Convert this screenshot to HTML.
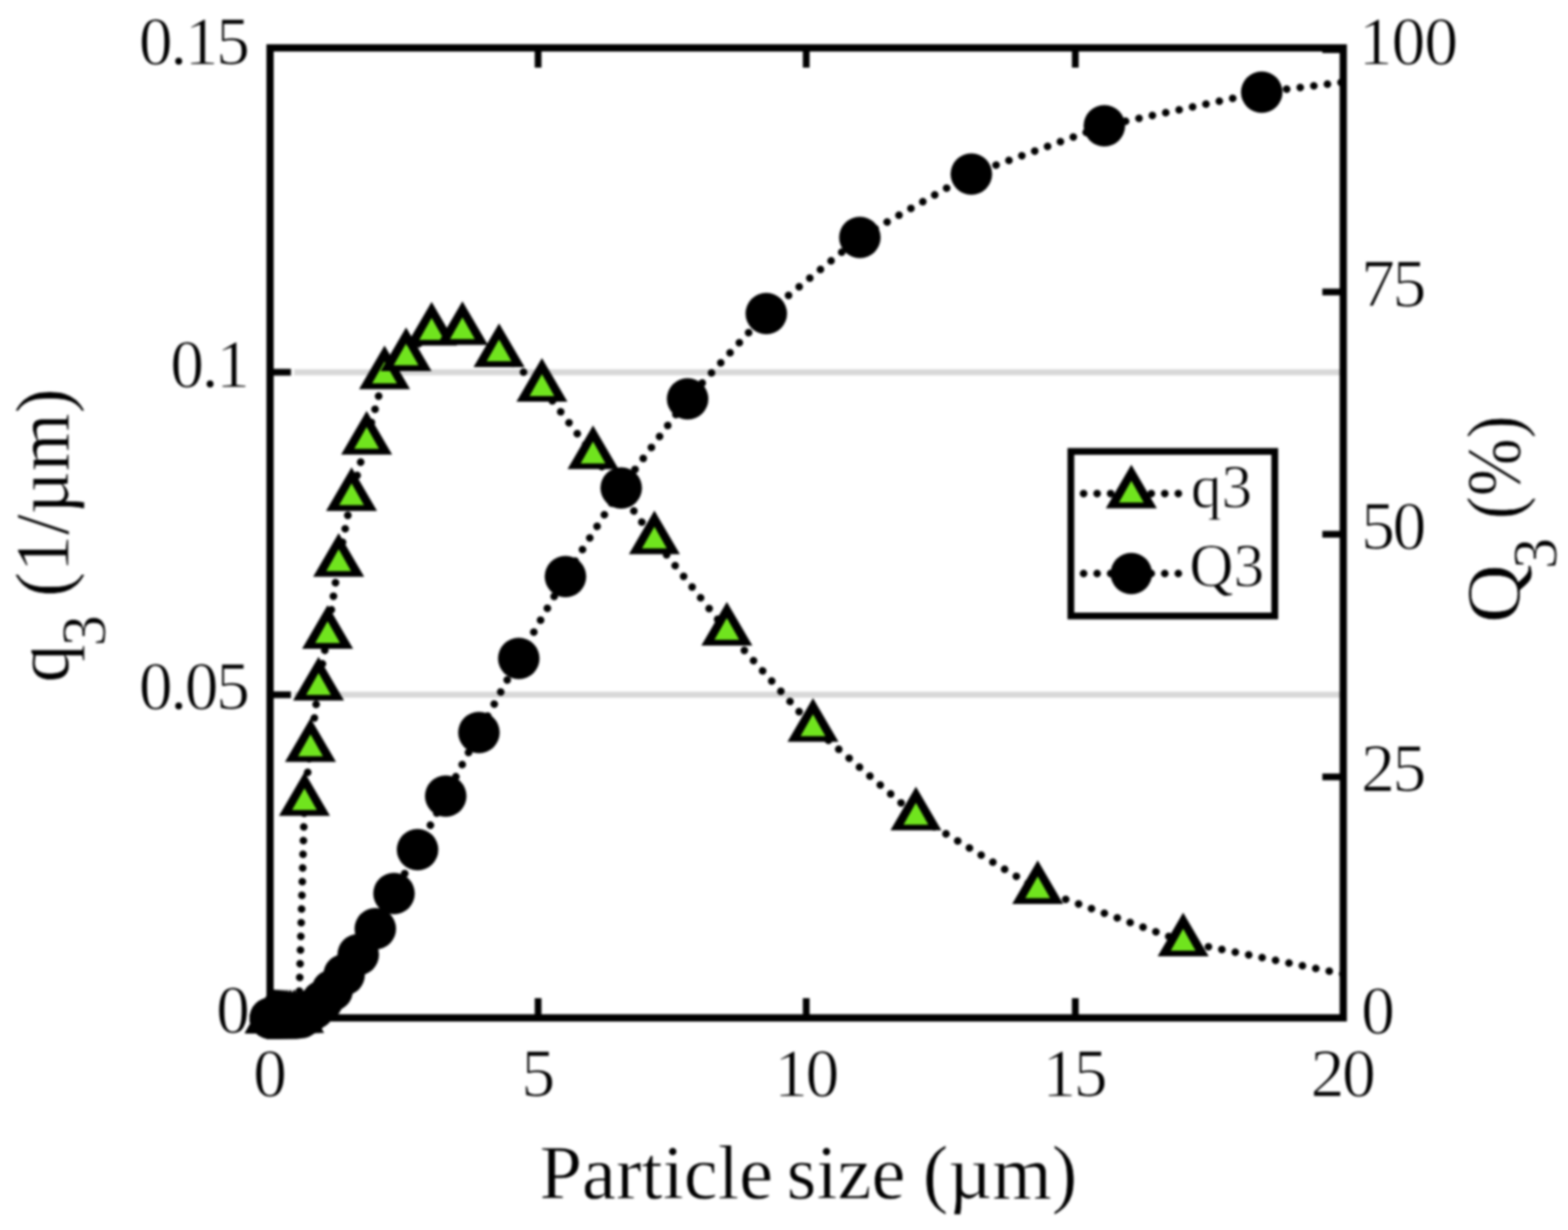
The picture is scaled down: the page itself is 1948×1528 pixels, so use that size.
<!DOCTYPE html>
<html lang="en"><head><meta charset="utf-8"><title>Particle size distribution</title>
<style>html,body{margin:0;padding:0;background:#fff}body{width:1948px;height:1528px}svg{display:block;font-family:"Liberation Serif","DejaVu Serif",serif;filter:blur(1.7px)}text{fill:#000}</style></head><body>
<svg width="1948" height="1528" viewBox="0 0 1948 1528">
<rect x="-20" y="-20" width="1988" height="1568" fill="#fff"/>
<defs><clipPath id="plot"><rect x="295.5" y="59.5" width="1373.3" height="1245"/></clipPath></defs>
<g stroke="#d8d8d8" stroke-width="7.5" fill="none">
<line x1="365.5" y1="863.1" x2="1668.8" y2="863.1"/>
<line x1="365.5" y1="462.4" x2="1668.8" y2="462.4"/>
</g>
<rect x="335.5" y="59.5" width="1333.3" height="1205" fill="none" stroke="#000" stroke-width="9"/>
<g stroke="#000" stroke-width="8.4" fill="none">
<line x1="668.5" y1="1264.5" x2="668.5" y2="1240"/>
<line x1="668.5" y1="59.5" x2="668.5" y2="84"/>
<line x1="1001.6" y1="1264.5" x2="1001.6" y2="1240"/>
<line x1="1001.6" y1="59.5" x2="1001.6" y2="84"/>
<line x1="1335.9" y1="1264.5" x2="1335.9" y2="1240"/>
<line x1="1335.9" y1="59.5" x2="1335.9" y2="84"/>
<line x1="335.5" y1="863.1" x2="361.5" y2="863.1"/>
<line x1="335.5" y1="462.4" x2="361.5" y2="462.4"/>
<line x1="1668.8" y1="965.1" x2="1642.8" y2="965.1"/>
<line x1="1668.8" y1="663.7" x2="1642.8" y2="663.7"/>
<line x1="1668.8" y1="362.7" x2="1642.8" y2="362.7"/>
<line x1="1668.8" y1="61.7" x2="1642.8" y2="61.7"/>
</g>
<g clip-path="url(#plot)">
<polyline points="335.89,1265 335.97,1265 336.05,1265 336.16,1265 336.28,1265 336.43,1265 336.61,1265 336.82,1265 337.07,1265 337.37,1265 337.72,1265 338.14,1265 338.64,1265 339.23,1265 339.94,1265 340.78,1265 341.78,1265 342.96,1265 344.38,1265 346.06,1265 348.05,1265 350.43,1265 353.25,1265 356.61,1265 360.61,1265 365.36,1265 371.01,1265 378.25,995.2 385.75,928.3 395.75,852.1 407,787.7 420.75,698.3 436.75,616.45 455.5,546.45 477.75,465.2 504.5,442.7 536.25,411.1 574.5,410.2 620,437.7 673.25,480.8 736.75,564.6 813,670.2 903,783.7 1010,903.3 1137.9,1013.3 1289.2,1104.7 1469.9,1169.8 1686.7,1213.6" fill="none" stroke="#000" stroke-width="9.5" stroke-linecap="round" stroke-linejoin="round" stroke-dasharray="0.01 17" stroke-dashoffset="-0.8"/>
<g>
<polygon fill="#000" points="335.89,1229 304.19,1283.2 367.59,1283.2"/><polygon fill="#70e41e" points="335.89,1249 320.49,1276.1 351.29,1276.1"/>
<polygon fill="#000" points="335.97,1229 304.27,1283.2 367.67,1283.2"/><polygon fill="#70e41e" points="335.97,1249 320.57,1276.1 351.37,1276.1"/>
<polygon fill="#000" points="336.05,1229 304.35,1283.2 367.75,1283.2"/><polygon fill="#70e41e" points="336.05,1249 320.65,1276.1 351.45,1276.1"/>
<polygon fill="#000" points="336.16,1229 304.46,1283.2 367.86,1283.2"/><polygon fill="#70e41e" points="336.16,1249 320.76,1276.1 351.56,1276.1"/>
<polygon fill="#000" points="336.28,1229 304.58,1283.2 367.98,1283.2"/><polygon fill="#70e41e" points="336.28,1249 320.88,1276.1 351.68,1276.1"/>
<polygon fill="#000" points="336.43,1229 304.73,1283.2 368.13,1283.2"/><polygon fill="#70e41e" points="336.43,1249 321.03,1276.1 351.83,1276.1"/>
<polygon fill="#000" points="336.61,1229 304.91,1283.2 368.31,1283.2"/><polygon fill="#70e41e" points="336.61,1249 321.21,1276.1 352.01,1276.1"/>
<polygon fill="#000" points="336.82,1229 305.12,1283.2 368.52,1283.2"/><polygon fill="#70e41e" points="336.82,1249 321.42,1276.1 352.22,1276.1"/>
<polygon fill="#000" points="337.07,1229 305.37,1283.2 368.77,1283.2"/><polygon fill="#70e41e" points="337.07,1249 321.67,1276.1 352.47,1276.1"/>
<polygon fill="#000" points="337.37,1229 305.67,1283.2 369.07,1283.2"/><polygon fill="#70e41e" points="337.37,1249 321.97,1276.1 352.77,1276.1"/>
<polygon fill="#000" points="337.72,1229 306.02,1283.2 369.42,1283.2"/><polygon fill="#70e41e" points="337.72,1249 322.32,1276.1 353.12,1276.1"/>
<polygon fill="#000" points="338.14,1229 306.44,1283.2 369.84,1283.2"/><polygon fill="#70e41e" points="338.14,1249 322.74,1276.1 353.54,1276.1"/>
<polygon fill="#000" points="338.64,1229 306.94,1283.2 370.34,1283.2"/><polygon fill="#70e41e" points="338.64,1249 323.24,1276.1 354.04,1276.1"/>
<polygon fill="#000" points="339.23,1229 307.53,1283.2 370.93,1283.2"/><polygon fill="#70e41e" points="339.23,1249 323.83,1276.1 354.63,1276.1"/>
<polygon fill="#000" points="339.94,1229 308.24,1283.2 371.64,1283.2"/><polygon fill="#70e41e" points="339.94,1249 324.54,1276.1 355.34,1276.1"/>
<polygon fill="#000" points="340.78,1229 309.08,1283.2 372.48,1283.2"/><polygon fill="#70e41e" points="340.78,1249 325.38,1276.1 356.18,1276.1"/>
<polygon fill="#000" points="341.78,1229 310.08,1283.2 373.48,1283.2"/><polygon fill="#70e41e" points="341.78,1249 326.38,1276.1 357.18,1276.1"/>
<polygon fill="#000" points="342.96,1229 311.26,1283.2 374.66,1283.2"/><polygon fill="#70e41e" points="342.96,1249 327.56,1276.1 358.36,1276.1"/>
<polygon fill="#000" points="344.38,1229 312.68,1283.2 376.08,1283.2"/><polygon fill="#70e41e" points="344.38,1249 328.98,1276.1 359.78,1276.1"/>
<polygon fill="#000" points="346.06,1229 314.36,1283.2 377.76,1283.2"/><polygon fill="#70e41e" points="346.06,1249 330.66,1276.1 361.46,1276.1"/>
<polygon fill="#000" points="348.05,1229 316.35,1283.2 379.75,1283.2"/><polygon fill="#70e41e" points="348.05,1249 332.65,1276.1 363.45,1276.1"/>
<polygon fill="#000" points="350.43,1229 318.73,1283.2 382.13,1283.2"/><polygon fill="#70e41e" points="350.43,1249 335.03,1276.1 365.83,1276.1"/>
<polygon fill="#000" points="353.25,1229 321.55,1283.2 384.95,1283.2"/><polygon fill="#70e41e" points="353.25,1249 337.85,1276.1 368.65,1276.1"/>
<polygon fill="#000" points="356.61,1229 324.91,1283.2 388.31,1283.2"/><polygon fill="#70e41e" points="356.61,1249 341.21,1276.1 372.01,1276.1"/>
<polygon fill="#000" points="360.61,1229 328.91,1283.2 392.31,1283.2"/><polygon fill="#70e41e" points="360.61,1249 345.21,1276.1 376.01,1276.1"/>
<polygon fill="#000" points="365.36,1229 333.66,1283.2 397.06,1283.2"/><polygon fill="#70e41e" points="365.36,1249 349.96,1276.1 380.76,1276.1"/>
<polygon fill="#000" points="371.01,1229 339.31,1283.2 402.71,1283.2"/><polygon fill="#70e41e" points="371.01,1249 355.61,1276.1 386.41,1276.1"/>
<polygon fill="#000" points="378.25,959.2 346.55,1013.4 409.95,1013.4"/><polygon fill="#70e41e" points="378.25,979.2 362.85,1006.3 393.65,1006.3"/>
<polygon fill="#000" points="385.75,892.3 354.05,946.5 417.45,946.5"/><polygon fill="#70e41e" points="385.75,912.3 370.35,939.4 401.15,939.4"/>
<polygon fill="#000" points="395.75,816.1 364.05,870.3 427.45,870.3"/><polygon fill="#70e41e" points="395.75,836.1 380.35,863.2 411.15,863.2"/>
<polygon fill="#000" points="407,751.7 375.3,805.9 438.7,805.9"/><polygon fill="#70e41e" points="407,771.7 391.6,798.8 422.4,798.8"/>
<polygon fill="#000" points="420.75,662.3 389.05,716.5 452.45,716.5"/><polygon fill="#70e41e" points="420.75,682.3 405.35,709.4 436.15,709.4"/>
<polygon fill="#000" points="436.75,580.45 405.05,634.65 468.45,634.65"/><polygon fill="#70e41e" points="436.75,600.45 421.35,627.55 452.15,627.55"/>
<polygon fill="#000" points="455.5,510.45 423.8,564.65 487.2,564.65"/><polygon fill="#70e41e" points="455.5,530.45 440.1,557.55 470.9,557.55"/>
<polygon fill="#000" points="477.75,429.2 446.05,483.4 509.45,483.4"/><polygon fill="#70e41e" points="477.75,449.2 462.35,476.3 493.15,476.3"/>
<polygon fill="#000" points="504.5,406.7 472.8,460.9 536.2,460.9"/><polygon fill="#70e41e" points="504.5,426.7 489.1,453.8 519.9,453.8"/>
<polygon fill="#000" points="536.25,375.1 504.55,429.3 567.95,429.3"/><polygon fill="#70e41e" points="536.25,395.1 520.85,422.2 551.65,422.2"/>
<polygon fill="#000" points="574.5,374.2 542.8,428.4 606.2,428.4"/><polygon fill="#70e41e" points="574.5,394.2 559.1,421.3 589.9,421.3"/>
<polygon fill="#000" points="620,401.7 588.3,455.9 651.7,455.9"/><polygon fill="#70e41e" points="620,421.7 604.6,448.8 635.4,448.8"/>
<polygon fill="#000" points="673.25,444.8 641.55,499 704.95,499"/><polygon fill="#70e41e" points="673.25,464.8 657.85,491.9 688.65,491.9"/>
<polygon fill="#000" points="736.75,528.6 705.05,582.8 768.45,582.8"/><polygon fill="#70e41e" points="736.75,548.6 721.35,575.7 752.15,575.7"/>
<polygon fill="#000" points="813,634.2 781.3,688.4 844.7,688.4"/><polygon fill="#70e41e" points="813,654.2 797.6,681.3 828.4,681.3"/>
<polygon fill="#000" points="903,747.7 871.3,801.9 934.7,801.9"/><polygon fill="#70e41e" points="903,767.7 887.6,794.8 918.4,794.8"/>
<polygon fill="#000" points="1010,867.3 978.3,921.5 1041.7,921.5"/><polygon fill="#70e41e" points="1010,887.3 994.6,914.4 1025.4,914.4"/>
<polygon fill="#000" points="1137.9,977.3 1106.2,1031.5 1169.6,1031.5"/><polygon fill="#70e41e" points="1137.9,997.3 1122.5,1024.4 1153.3,1024.4"/>
<polygon fill="#000" points="1289.2,1068.7 1257.5,1122.9 1320.9,1122.9"/><polygon fill="#70e41e" points="1289.2,1088.7 1273.8,1115.8 1304.6,1115.8"/>
<polygon fill="#000" points="1469.9,1133.8 1438.2,1188 1501.6,1188"/><polygon fill="#70e41e" points="1469.9,1153.8 1454.5,1180.9 1485.3,1180.9"/>
</g>
<polyline points="335.86,1265 335.93,1265 336.01,1265 336.1,1265 336.22,1265 336.35,1265 336.51,1265 336.71,1265 336.93,1265 337.2,1265 337.53,1265 337.91,1265 338.37,1265 338.91,1265 339.55,1265 340.32,1265 341.23,1265 342.32,1265 343.61,1265 345.14,1265 346.97,1265 349.14,1265 351.72,1265 354.79,1265 358.44,1265 362.78,1265 367.94,1265 374.1,1264.1 381.4,1259.7 390.1,1253.1 400.4,1243.5 412.7,1230.3 427.5,1211 445,1186 466.25,1153.75 489.5,1110 518.75,1055.5 553.75,989 595,910 644.5,818 702.5,716.25 771.75,606.25 854.25,495.5 952,389.5 1068.25,295 1206.75,216.25 1372,156.25 1567.5,114.5 1802,86" fill="none" stroke="#000" stroke-width="9.5" stroke-linecap="round" stroke-linejoin="round" stroke-dasharray="0.01 17" stroke-dashoffset="-5.85"/>
<g fill="#000">
<circle cx="335.86" cy="1265" r="25.8"/>
<circle cx="335.93" cy="1265" r="25.8"/>
<circle cx="336.01" cy="1265" r="25.8"/>
<circle cx="336.1" cy="1265" r="25.8"/>
<circle cx="336.22" cy="1265" r="25.8"/>
<circle cx="336.35" cy="1265" r="25.8"/>
<circle cx="336.51" cy="1265" r="25.8"/>
<circle cx="336.71" cy="1265" r="25.8"/>
<circle cx="336.93" cy="1265" r="25.8"/>
<circle cx="337.2" cy="1265" r="25.8"/>
<circle cx="337.53" cy="1265" r="25.8"/>
<circle cx="337.91" cy="1265" r="25.8"/>
<circle cx="338.37" cy="1265" r="25.8"/>
<circle cx="338.91" cy="1265" r="25.8"/>
<circle cx="339.55" cy="1265" r="25.8"/>
<circle cx="340.32" cy="1265" r="25.8"/>
<circle cx="341.23" cy="1265" r="25.8"/>
<circle cx="342.32" cy="1265" r="25.8"/>
<circle cx="343.61" cy="1265" r="25.8"/>
<circle cx="345.14" cy="1265" r="25.8"/>
<circle cx="346.97" cy="1265" r="25.8"/>
<circle cx="349.14" cy="1265" r="25.8"/>
<circle cx="351.72" cy="1265" r="25.8"/>
<circle cx="354.79" cy="1265" r="25.8"/>
<circle cx="358.44" cy="1265" r="25.8"/>
<circle cx="362.78" cy="1265" r="25.8"/>
<circle cx="367.94" cy="1265" r="25.8"/>
<circle cx="374.1" cy="1264.1" r="25.8"/>
<circle cx="381.4" cy="1259.7" r="25.8"/>
<circle cx="390.1" cy="1253.1" r="25.8"/>
<circle cx="400.4" cy="1243.5" r="25.8"/>
<circle cx="412.7" cy="1230.3" r="25.8"/>
<circle cx="427.5" cy="1211" r="25.8"/>
<circle cx="445" cy="1186" r="25.8"/>
<circle cx="466.25" cy="1153.75" r="25.8"/>
<circle cx="489.5" cy="1110" r="25.8"/>
<circle cx="518.75" cy="1055.5" r="25.8"/>
<circle cx="553.75" cy="989" r="25.8"/>
<circle cx="595" cy="910" r="25.8"/>
<circle cx="644.5" cy="818" r="25.8"/>
<circle cx="702.5" cy="716.25" r="25.8"/>
<circle cx="771.75" cy="606.25" r="25.8"/>
<circle cx="854.25" cy="495.5" r="25.8"/>
<circle cx="952" cy="389.5" r="25.8"/>
<circle cx="1068.25" cy="295" r="25.8"/>
<circle cx="1206.75" cy="216.25" r="25.8"/>
<circle cx="1372" cy="156.25" r="25.8"/>
<circle cx="1567.5" cy="114.5" r="25.8"/>
</g>
</g>
<g font-size="84" letter-spacing="-3" stroke="#fff" stroke-width="1.1">
<text x="307.5" y="1282.8" text-anchor="end">0</text>
<text x="307.5" y="881.3" text-anchor="end">0.05</text>
<text x="307.5" y="480.6" text-anchor="end">0.1</text>
<text x="307.5" y="79.9" text-anchor="end">0.15</text>
<text x="1691" y="1283.7" text-anchor="start">0</text>
<text x="1691" y="983.3" text-anchor="start">25</text>
<text x="1691" y="681.9" text-anchor="start">50</text>
<text x="1691" y="380.9" text-anchor="start">75</text>
<text x="1688" y="79.9" text-anchor="start" letter-spacing="-1.2">100</text>
<text x="334" y="1362" text-anchor="middle">0</text>
<text x="667.33" y="1362" text-anchor="middle">5</text>
<text x="1000.65" y="1362" text-anchor="middle">10</text>
<text x="1333.97" y="1362" text-anchor="middle">15</text>
<text x="1667.3" y="1362" text-anchor="middle">20</text>
</g>
<g font-size="95" stroke="#fff" stroke-width="0.8">
<text y="1488.5"><tspan x="670.2">Particle</tspan> <tspan x="977.2">size</tspan> <tspan x="1146.4">(µm)</tspan></text>
<text transform="translate(85.4 848.1) rotate(-90)"><tspan x="0">q</tspan><tspan x="45" dy="44.5" font-size="78">3</tspan><tspan dy="-44.5"> </tspan><tspan x="106.5" textLength="259" lengthAdjust="spacingAndGlyphs">(1/µm)</tspan></text>
<text transform="translate(1888.3 774) rotate(-90)"><tspan x="0" textLength="73" lengthAdjust="spacingAndGlyphs">Q</tspan><tspan x="67" dy="44.5" font-size="78">3</tspan><tspan dy="-44.5"> </tspan><tspan x="129" textLength="129" lengthAdjust="spacingAndGlyphs">(%)</tspan></text>
</g>
<rect x="1330.4" y="560.8" width="253.3" height="204.4" fill="#fff" stroke="#000" stroke-width="8.4"/>
<line x1="1346.2" y1="613.2" x2="1464.5" y2="613.2" stroke="#000" stroke-width="9.5" stroke-linecap="round" stroke-dasharray="0.01 16.8"/>
<line x1="1346.2" y1="712.5" x2="1464.5" y2="712.5" stroke="#000" stroke-width="9.5" stroke-linecap="round" stroke-dasharray="0.01 16.8"/>
<g><polygon fill="#000" points="1405.5,577.2 1373.8,631.4 1437.2,631.4"/><polygon fill="#70e41e" points="1405.5,597.2 1390.1,624.3 1420.9,624.3"/></g>
<g fill="#000"><circle cx="1405.5" cy="712.5" r="25.8"/></g>
<g font-size="76" stroke="#fff" stroke-width="1.0">
<text x="1479.4" y="629.5">q3</text>
<text x="1477.6" y="727.7">Q3</text>
</g>
</svg></body></html>
